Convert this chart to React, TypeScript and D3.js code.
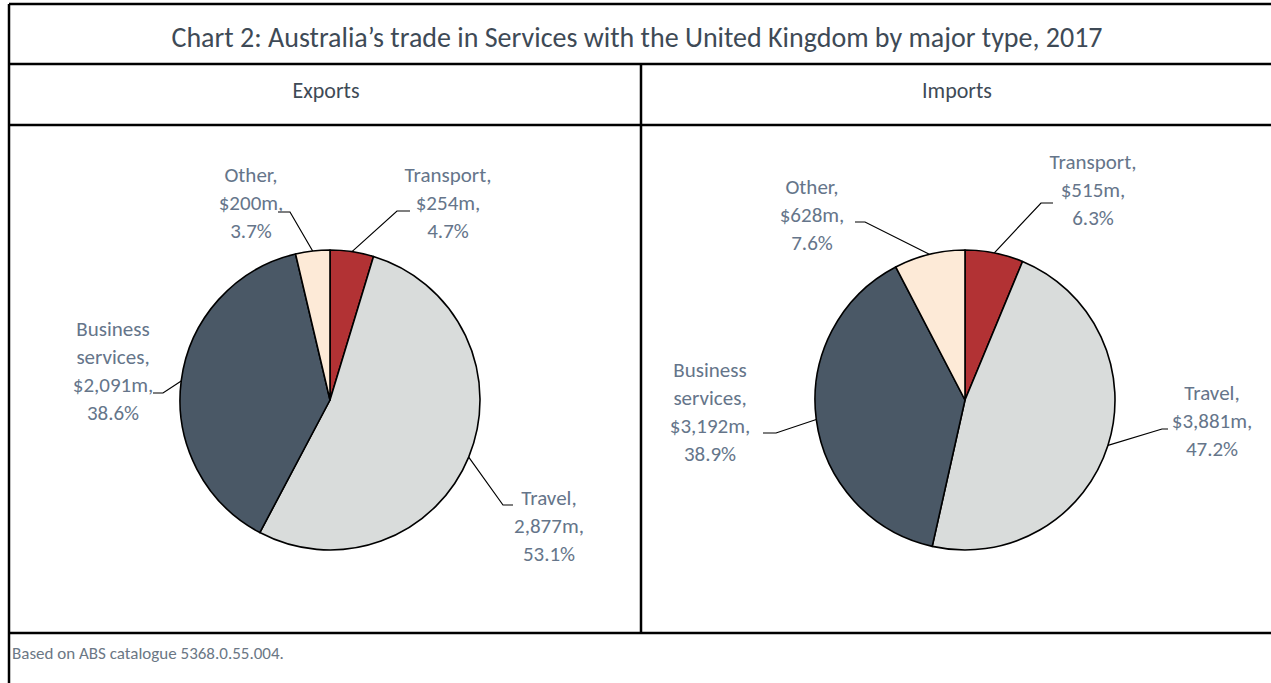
import { useEffect, useRef } from "react";
import * as d3 from "d3";

// values (A$ million, 2017)
const categories = ["Transport", "Travel", "Business services", "Other"];
const exportValues = [254, 2877, 2091, 200];
const importValues = [515, 3881, 3192, 628];

const exportLabels = [
  ["Transport,", "$254m,", "4.7%"],
  ["Travel,", "2,877m,", "53.1%"],
  ["Business", "services,", "$2,091m,", "38.6%"],
  ["Other,", "$200m,", "3.7%"],
];
const importLabels = [
  ["Transport,", "$515m,", "6.3%"],
  ["Travel,", "$3,881m,", "47.2%"],
  ["Business", "services,", "$3,192m,", "38.9%"],
  ["Other,", "$628m,", "7.6%"],
];

const colors = ["#B23234", "#D9DCDB", "#4A5866", "#FDEAD7"];

// label placement relative to pie centre: text x, first line y, elbow x/y, end of the short horizontal
const exportLayout = [
  { tx: 118, ty: -225, ex: 67, ey: -189, hx: 80 },
  { tx: 219, ty: 98, ex: 173, ey: 105, hx: 183 },
  { tx: -217, ty: -71, ex: -167, ey: -7, hx: -177 },
  { tx: -79, ty: -225, ex: -40, ey: -188, hx: -52 },
];
const importLayout = [
  { tx: 128, ty: -238, ex: 76, ey: -197, hx: 88 },
  { tx: 247, ty: -7, ex: 197, ey: 29, hx: 203 },
  { tx: -255, ty: -30, ex: -189, ey: 33, hx: -202 },
  { tx: -153, ty: -213, ex: -100, ey: -178, hx: -110 },
];

const W = 1271;
const H = 683;
const FONT = "Carlito, Lato, 'Open Sans', sans-serif";

export default function App() {
  const ref = useRef<SVGSVGElement>(null);

  useEffect(() => {
    const svg = d3.select(ref.current);
    svg.selectAll("*").remove();

    svg.append("rect").attr("width", W).attr("height", H).attr("fill", "#fff");

    // table frame
    const lines = [
      [9, 4, W, 4],
      [9, 4, 9, H],
      [9, 64, W, 64],
      [9, 125, W, 125],
      [9, 633, W, 633],
      [641, 64, 641, 633],
    ];
    svg.selectAll("line.frame")
      .data(lines)
      .join("line")
      .attr("class", "frame")
      .attr("x1", d => d[0]).attr("y1", d => d[1])
      .attr("x2", d => d[2]).attr("y2", d => d[3])
      .attr("stroke", "#000")
      .attr("stroke-width", 2.5);

    svg.append("text")
      .attr("x", 637).attr("y", 37)
      .attr("text-anchor", "middle")
      .attr("dominant-baseline", "central")
      .style("font-family", FONT)
      .style("font-size", "28px")
      .attr("fill", "#3E4A56")
      .text("Chart 2: Australia\u2019s trade in Services with the United Kingdom by major type, 2017");

    const headers = [{ t: "Exports", x: 326 }, { t: "Imports", x: 957 }];
    svg.selectAll("text.head")
      .data(headers)
      .join("text")
      .attr("class", "head")
      .attr("x", d => d.x).attr("y", 90)
      .attr("text-anchor", "middle")
      .attr("dominant-baseline", "central")
      .style("font-family", FONT)
      .style("font-size", "22px")
      .attr("fill", "#3E4A56")
      .text(d => d.t);

    svg.append("text")
      .attr("x", 12).attr("y", 653)
      .attr("dominant-baseline", "central")
      .style("font-family", FONT)
      .style("font-size", "17px")
      .attr("fill", "#6B7785")
      .text("Based on ABS catalogue 5368.0.55.004.");

    const r = 150;
    const pie = d3.pie<number>().sort(null).value(d => d);
    const arc = d3.arc<d3.PieArcDatum<number>>().innerRadius(0).outerRadius(r);

    const drawPie = (cx: number, cy: number, values: number[], labels: string[][], layout: typeof exportLayout) => {
      const g = svg.append("g").attr("transform", `translate(${cx},${cy})`);
      const arcs = pie(values);

      g.selectAll("path")
        .data(arcs)
        .join("path")
        .attr("d", arc)
        .attr("fill", (d, i) => colors[i])
        .attr("stroke", "#000")
        .attr("stroke-width", 1.6)
        .attr("stroke-linejoin", "round");

      arcs.forEach((a, i) => {
        const mid = (a.startAngle + a.endAngle) / 2;
        const sx = r * Math.sin(mid);
        const sy = -r * Math.cos(mid);
        const L = layout[i];
        g.append("polyline")
          .attr("points", `${sx},${sy} ${L.ex},${L.ey} ${L.hx},${L.ey}`)
          .attr("fill", "none")
          .attr("stroke", "#000")
          .attr("stroke-width", 1.2);

        const t = g.append("text")
          .attr("text-anchor", "middle")
          .style("font-family", FONT)
          .style("font-size", "21px")
          .style("font-weight", 300)
          .attr("fill", "#65758A")
          .attr("aria-label", categories[i]);
        labels[i].forEach((s, k) => {
          t.append("tspan")
            .attr("x", L.tx)
            .attr("y", L.ty + k * 28)
            .attr("dominant-baseline", "central")
            .text(s);
        });
      });
    };

    drawPie(330, 400, exportValues, exportLabels, exportLayout);
    drawPie(965, 400, importValues, importLabels, importLayout);
  }, []);

  return (
    <svg
      ref={ref}
      width={W}
      height={H}
      style={{ position: "absolute", left: 0, top: 0, display: "block" }}
    />
  );
}
